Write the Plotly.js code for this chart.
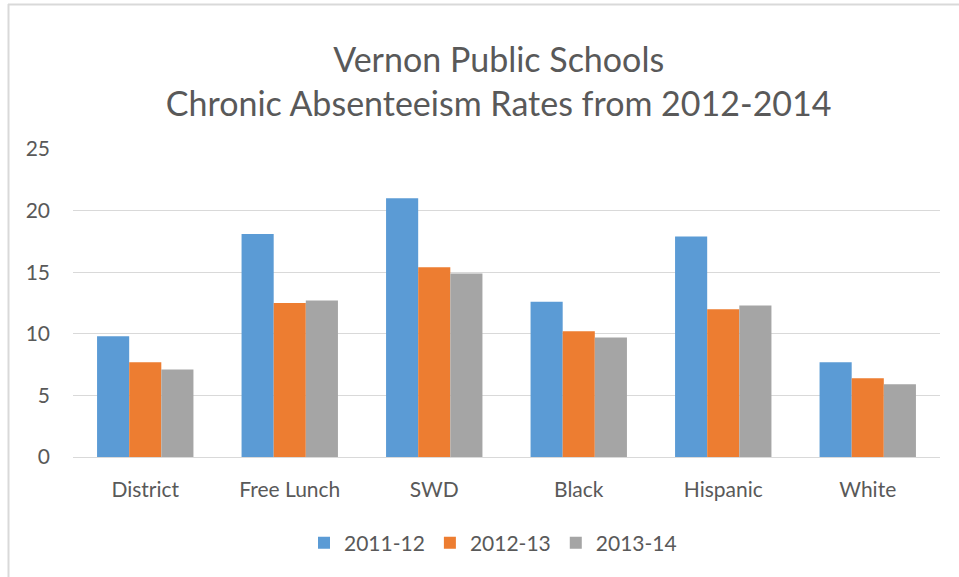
<!DOCTYPE html>
<html>
<head>
<meta charset="utf-8">
<script src="https://cdn.plot.ly/plotly-3.0.1.min.js"></script>
<style>html,body{margin:0;padding:0;background:#fff;}#chart{width:959px;height:577px;}</style>
</head>
<body>
<div id="chart"></div>
<script>
const categories = ["District", "Free Lunch", "SWD", "Black", "Hispanic", "White"];
const seriesNames = ["2011-12", "2012-13", "2013-14"];
const values2011 = [9.8, 18.1, 21.0, 12.6, 17.9, 7.7];
const values2012 = [7.7, 12.5, 15.4, 10.2, 12.0, 6.4];
const values2013 = [7.1, 12.7, 14.9, 9.7, 12.3, 5.9];
const yTicks = [0, 5, 10, 15, 20, 25];
const colors = ["#5B9BD5", "#ED7D31", "#A5A5A5"];

const allValues = [values2011, values2012, values2013];
const data = allValues.map((v, i) => ({
  type: "bar",
  name: seriesNames[i],
  x: categories,
  y: v,
  marker: {color: colors[i]},
  hoverinfo: "x+y+name"
}));

const font = "Lato, 'Open Sans', sans-serif";
const L = 73, R = 940, T = 149, B = 457;
const pw = R - L, ph = B - T;
const px = x => (x - L) / pw;
const py = y => (B - y) / ph;

const layout = {
  width: 959,
  height: 577,
  margin: {l: L, r: 959 - R, t: T, b: 577 - B},
  paper_bgcolor: "#ffffff",
  plot_bgcolor: "#ffffff",
  barmode: "group",
  bargap: 0.333,
  bargroupgap: 0,
  font: {family: font, color: "#595959", size: 21},
  title: {
    text: "Vernon Public Schools<br>Chronic Absenteeism Rates from 2012-2014",
    font: {family: font, size: 34, color: "#595959"},
    x: 0.52, xanchor: "center",
    y: 0.876, yanchor: "middle"
  },
  xaxis: {
    showgrid: false,
    showline: false,
    ticks: "",
    tickfont: {size: 21, color: "#595959"},
    ticklabelstandoff: 18
  },
  yaxis: {
    range: [0, 25],
    tickvals: yTicks,
    showgrid: true,
    gridcolor: "#D9D9D9",
    gridwidth: 1.3,
    zeroline: true,
    zerolinecolor: "#D9D9D9",
    zerolinewidth: 1.3,
    showline: false,
    ticks: "",
    ticklabelstandoff: 22,
    tickfont: {size: 21, color: "#595959"}
  },
  showlegend: true,
  legend: {
    orientation: "h",
    x: px(493), xanchor: "center",
    y: py(543), yanchor: "middle",
    font: {size: 21, color: "#595959"},
    itemwidth: 30
  },
  shapes: [
    {type: "line", xref: "paper", yref: "paper",
     x0: px(8.5), x1: px(8.5), y0: py(577), y1: py(4),
     line: {color: "#D9D9D9", width: 2}},
    {type: "line", xref: "paper", yref: "paper",
     x0: px(8), x1: px(959), y0: py(4.5), y1: py(4.5),
     line: {color: "#D9D9D9", width: 2}}
  ]
};

Plotly.newPlot("chart", data, layout, {displayModeBar: false});
</script>
</body>
</html>
